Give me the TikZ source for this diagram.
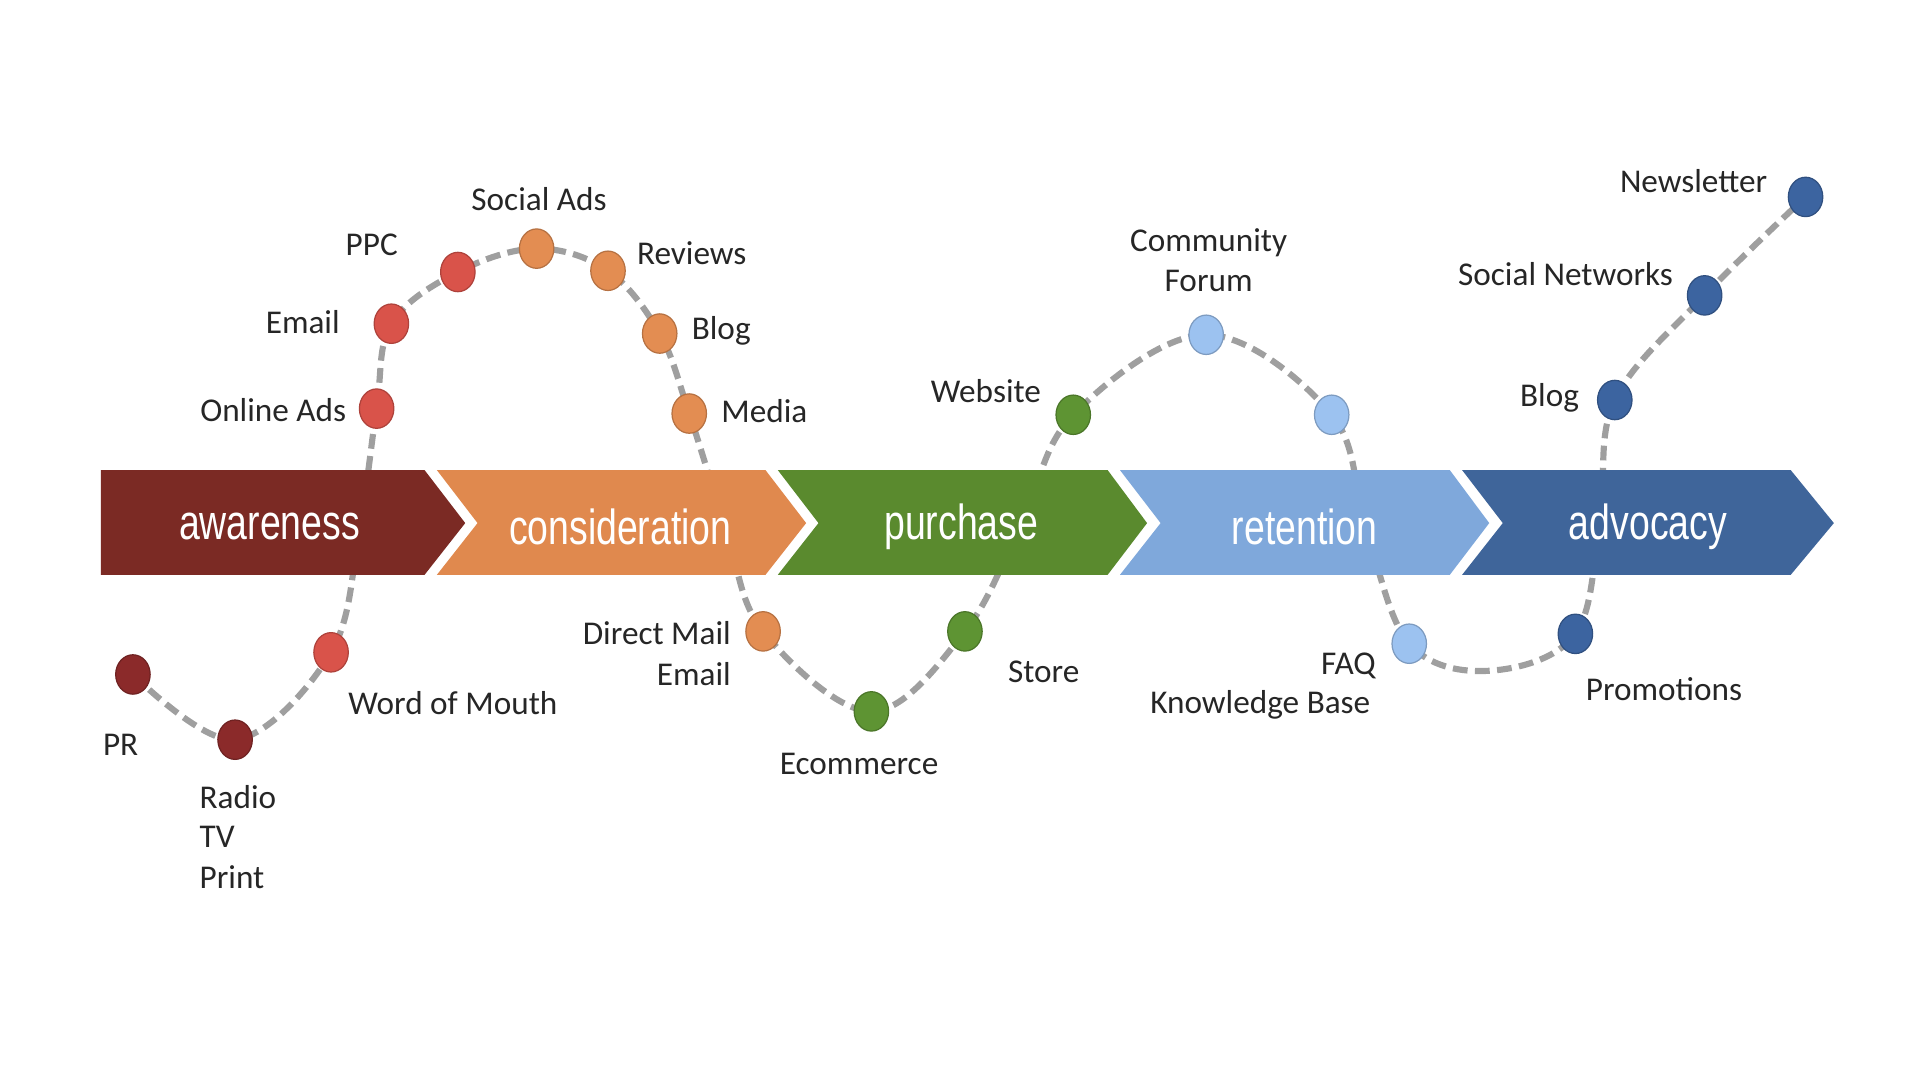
\documentclass[tikz,border=0pt]{standalone}
\usepackage{fontspec}
\usetikzlibrary{shapes.geometric}
\setmainfont{Carlito}
\newfontfamily\arrowfont[FakeStretch=0.76]{Liberation Sans}
\begin{document}
\begin{tikzpicture}[x=1pt,y=-1pt,
  lbl/.style={font=\fontsize{27}{30}\selectfont, text=black!85, inner sep=0pt},
  stage/.style={font=\arrowfont\fontsize{40}{44}\selectfont, text=white, inner sep=0pt},
  dot/.style={ellipse, minimum width=28pt, minimum height=32pt, inner sep=0pt},
  path/.style={draw=gray!75, line width=5pt, dash pattern=on 12pt off 6pt}]
\useasboundingbox (0,0) rectangle (1560,877.5);
\definecolor{cAw}{HTML}{7B2A24}
\definecolor{cCo}{HTML}{E0894E}
\definecolor{cPu}{HTML}{5A8A2E}
\definecolor{cRe}{HTML}{7FA8DB}
\definecolor{cAd}{HTML}{3F659A}
\definecolor{dRed}{HTML}{8B2A2A}
\definecolor{red2}{HTML}{D9534A}
\definecolor{or2}{HTML}{E38D52}
\definecolor{gr2}{HTML}{5E9433}
\definecolor{lb2}{HTML}{9CC2F0}
\definecolor{db2}{HTML}{3C64A0}
% dashed path
\path[path] plot[smooth, tension=0.6] coordinates {(108,548) (191,601) (269,530) (292,430) (306,332) (318,263) (372,221) (436,202) (494,220) (536,271) (560,336) (590,430) (620,513) (708,578) (784,513) (830,425) (872,337) (980,272) (1082,337) (1110,430) (1145,523) (1210,545) (1280,515) (1300,420) (1312,325) (1385,240) (1467,160)};
% stage arrows
\fill[cAw] (82,382) -- (345,382) -- (378,425) -- (345,467) -- (82,467) -- cycle;
\fill[cCo] (355,382) -- (622,382) -- (655,425) -- (622,467) -- (355,467) -- (388,425) -- cycle;
\fill[cPu] (632,382) -- (900,382) -- (932,425) -- (900,467) -- (632,467) -- (665,425) -- cycle;
\fill[cRe] (910,382) -- (1178,382) -- (1210,425) -- (1178,467) -- (910,467) -- (943,425) -- cycle;
\fill[cAd] (1188,382) -- (1455,382) -- (1490,425) -- (1455,467) -- (1188,467) -- (1221,425) -- cycle;
\node[stage] (s1) at (219,428) {awareness};
\node[stage] (s2) at (504,428) {consideration};
\node[stage] (s3) at (781,428) {purchase};
\node[stage] (s4) at (1060,428) {retention};
\node[stage] (s5) at (1339,428) {advocacy};
% dots
\foreach \n/\x/\y/\c in {d1/108/548/dRed, d2/191/601/dRed, d3/269/530/red2, d4/306/332/red2, d5/318/263/red2, d6/372/221/red2, d7/436/202/or2, d8/494/220/or2, d9/536/271/or2, d10/560/336/or2, d11/620/513/or2, d12/708/578/gr2, d13/784/513/gr2, d14/872/337/gr2, d15/980/272/lb2, d16/1082/337/lb2, d17/1145/523/lb2, d18/1280/515/db2, d19/1312/325/db2, d20/1385/240/db2, d21/1467/160/db2}
  \node[dot, fill=\c, draw=\c!80!black, line width=1pt] (\n) at (\x,\y) {};
% labels
\node[lbl] (l1) at (98,605) {PR};
\node[lbl, anchor=west] (l2a) at (162,648) {Radio};
\node[lbl, anchor=west] (l2b) at (162,680) {TV};
\node[lbl, anchor=west] (l2c) at (162,713) {Print};
\node[lbl] (l3) at (368,571) {Word of Mouth};
\node[lbl] (l4) at (222,333) {Online Ads};
\node[lbl] (l5) at (246,262) {Email};
\node[lbl] (l6) at (302,199) {PPC};
\node[lbl] (l7) at (438,162) {Social Ads};
\node[lbl] (l8) at (562,206) {Reviews};
\node[lbl] (l9) at (586,269) {Blog};
\node[lbl] (l10) at (621,334) {Media};
\node[lbl, anchor=east] (l11a) at (594,514) {Direct Mail};
\node[lbl, anchor=east] (l11b) at (594,548) {Email};
\node[lbl] (l12) at (698,621) {Ecommerce};
\node[lbl] (l13) at (848,546) {Store};
\node[lbl] (l14) at (801,318) {Website};
\node[lbl] (l15a) at (982,197) {Community};
\node[lbl] (l15b) at (982,228) {Forum};
\node[lbl, anchor=east] (l17a) at (1118,541) {FAQ};
\node[lbl] (l17b) at (1024,573) {Knowledge Base};
\node[lbl] (l18) at (1352,560) {Promotions};
\node[lbl] (l19) at (1259,323) {Blog};
\node[lbl] (l20) at (1272,223) {Social Networks};
\node[lbl] (l21) at (1376,147) {Newsletter};
\end{tikzpicture}
\end{document}
